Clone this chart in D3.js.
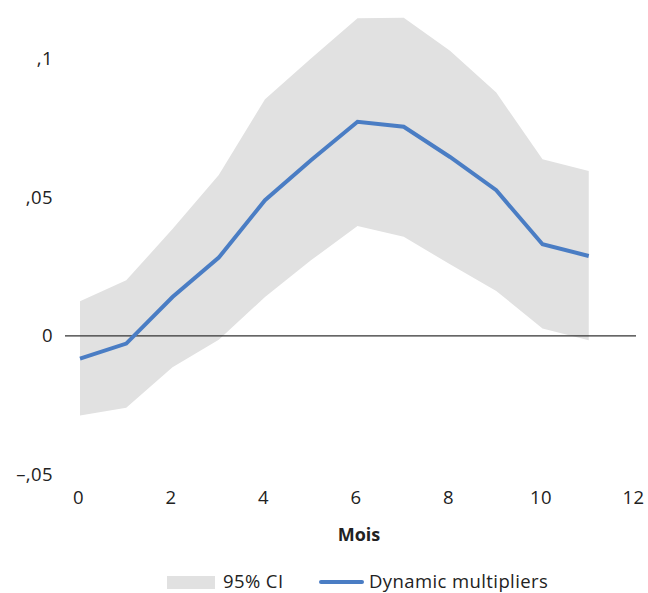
<!DOCTYPE html>
<html><head><meta charset="utf-8">
<script src="https://cdn.jsdelivr.net/npm/d3@7"></script>
<style>body{margin:0;background:#fff;}svg text{font-family:"Open Sans",Lato,sans-serif;}</style>
</head><body>
<svg id="c" width="648" height="593"></svg>
<script>
const months = [0,1,2,3,4,5,6,7,8,9,10,11];
const ciUpper = [0.0125,0.0200,0.0385,0.0580,0.0853,0.1001,0.1145,0.1147,0.1028,0.0877,0.0637,0.0594];
const ciLower = [-0.0287,-0.0259,-0.0113,-0.0014,0.0140,0.0273,0.0396,0.0357,0.0258,0.0162,0.0026,-0.0016];
const multipliers = [-0.0082,-0.0028,0.0140,0.0282,0.0489,0.0634,0.0772,0.0754,0.0645,0.0525,0.0330,0.0288];
const xTicks = [0,2,4,6,8,10,12];
const yTicks = [-0.05,0,0.05,0.1];
const yTickLabels = ["–,05","0",",05",",1"];

const FONT = "'Open Sans',Lato,sans-serif";
const FS = 18.5, LS = 0.4;
const svg = d3.select("#c");
const x = d3.scaleLinear().domain([0,12]).range([80,635]);
const y = d3.scaleLinear().domain([-0.05,0.1]).range([474.5,58.5]);

const area = d3.area().x((d,i)=>x(months[i])).y0((d,i)=>y(ciLower[i])).y1((d,i)=>y(ciUpper[i]));
svg.append("path").datum(months).attr("d",area).attr("fill","#e1e1e1");

svg.append("line").attr("x1",65).attr("x2",636).attr("y1",y(0)).attr("y2",y(0))
  .attr("stroke","#333").attr("stroke-width",1.3);

const line = d3.line().x((d,i)=>x(months[i])).y((d,i)=>y(multipliers[i]));
svg.append("path").datum(months).attr("d",line).attr("fill","none")
  .attr("stroke","#4a7dc4").attr("stroke-width",4).attr("stroke-linejoin","miter");

// Y axis
const yAxis = d3.axisLeft(y).tickValues(yTicks).tickSize(0).tickPadding(0)
  .tickFormat((d,i)=>yTickLabels[i]);
const ya = svg.append("g").attr("transform","translate(53,0)").call(yAxis);
ya.select(".domain").remove();
ya.selectAll("text").attr("font-size",FS).attr("fill","#222").attr("font-family",FONT).attr("letter-spacing",LS);

// X axis
const xAxis = d3.axisBottom(x).tickValues(xTicks).tickSize(0).tickPadding(0);
const xa = svg.append("g").attr("transform","translate(-2,491)").call(xAxis);
xa.select(".domain").remove();
xa.selectAll("text").attr("font-size",FS).attr("fill","#222").attr("font-family",FONT).attr("letter-spacing",LS);

svg.append("text").attr("x",359).attr("y",541).attr("text-anchor","middle")
  .attr("font-size",18).attr("font-weight","bold").attr("fill","#222").text("Mois");

// Legend
svg.append("rect").attr("x",167).attr("y",576).attr("width",48).attr("height",13).attr("fill","#e1e1e1");
svg.append("text").attr("x",223).attr("y",588).attr("font-size",FS).attr("letter-spacing",LS).attr("fill","#222").text("95% CI");
svg.append("line").attr("x1",321).attr("x2",362).attr("y1",582).attr("y2",582)
  .attr("stroke","#4a7dc4").attr("stroke-width",4).attr("stroke-linecap","round");
svg.append("text").attr("x",369).attr("y",588).attr("font-size",FS).attr("letter-spacing",LS).attr("fill","#222").text("Dynamic multipliers");
</script>
</body></html>
